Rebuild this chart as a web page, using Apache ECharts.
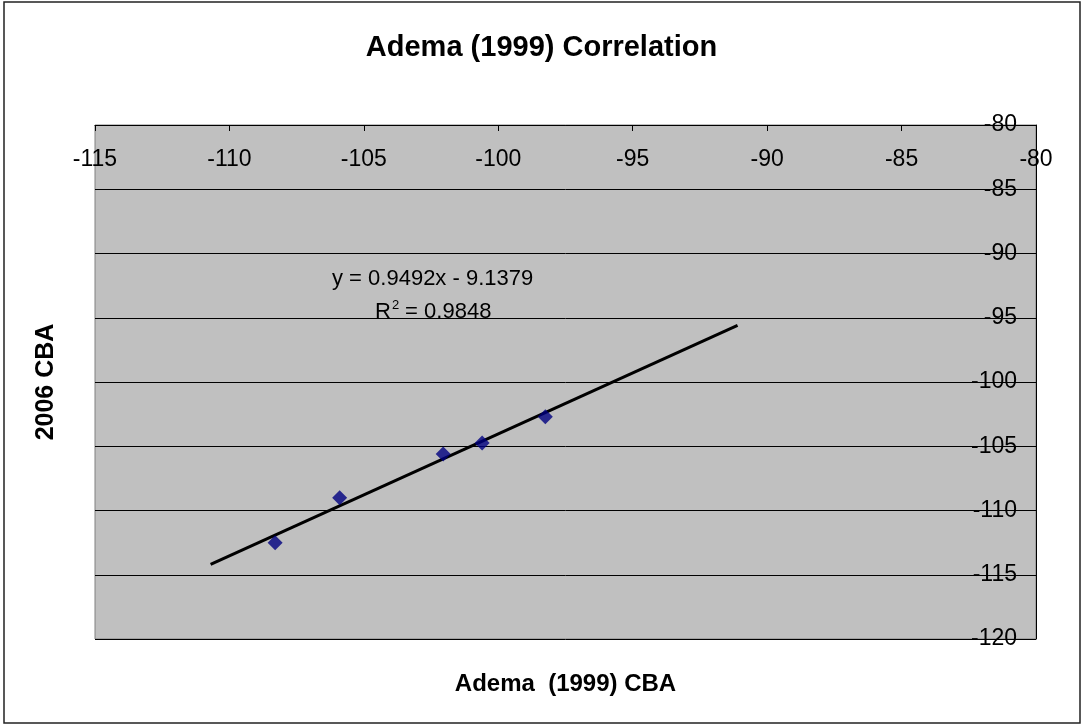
<!DOCTYPE html>
<html>
<head>
<meta charset="utf-8">
<script src="https://cdn.jsdelivr.net/npm/echarts@6/dist/echarts.min.js"></script>
<style>
  html, body { margin: 0; padding: 0; background: #fff; }
  #chart { width: 1083px; height: 725px; }
</style>
</head>
<body>
<div id="chart"></div>
<script>
// measured points (Adema 1999 vs 2006 CBA)
const ademaCBA = [-108.3, -105.9, -102.05, -100.6, -98.25];
const cba2006 = [-112.5, -109.0, -105.6, -104.75, -102.7];
// trend line end points as drawn
const trendX = [-110.7, -91.1];
const trendY = [-114.2, -95.6];
const xRange = [-115, -80];
const yRange = [-120, -80];
const tickStep = 5;
const equationText = 'y = 0.9492x - 9.1379';
const rSquaredText = ' = 0.9848';

const chart = echarts.init(document.getElementById('chart'));
const font = 'Liberation Sans, Arial, sans-serif';

const points = ademaCBA.map((x, i) => [x, cba2006[i]]);
const trend = trendX.map((x, i) => [x, trendY[i]]);

const option = {
  backgroundColor: '#fff',
  animation: false,
  textStyle: { fontFamily: font },
  title: {
    text: 'Adema (1999) Correlation',
    left: 'center',
    top: 28,
    textStyle: { fontSize: 29, fontWeight: 'bold', color: '#000', fontFamily: font }
  },
  grid: {
    left: 95, right: 47, top: 125, bottom: 86,
    show: true,
    backgroundColor: '#C0C0C0',
    borderColor: '#808080',
    borderWidth: 1
  },
  xAxis: [{
    type: 'value',
    position: 'top',
    min: xRange[0], max: xRange[1], interval: tickStep,
    axisLine: { lineStyle: { color: '#000', width: 1 } },
    axisTick: { inside: true, length: 6, lineStyle: { color: '#000' } },
    axisLabel: { inside: true, margin: 23, fontSize: 23, color: '#000', fontFamily: font },
    splitLine: { show: false }
  }, {
    type: 'value',
    position: 'bottom',
    min: xRange[0], max: xRange[1],
    name: 'Adema  (1999) CBA',
    nameLocation: 'middle',
    nameGap: 33,
    nameTextStyle: { fontSize: 24, fontWeight: 'bold', color: '#000', fontFamily: font },
    axisLine: { show: false }, axisTick: { show: false },
    axisLabel: { show: false }, splitLine: { show: false }
  }],
  yAxis: [{
    type: 'value',
    position: 'right',
    min: yRange[0], max: yRange[1], interval: tickStep,
    axisLine: { show: true, lineStyle: { color: '#000', width: 1 } },
    axisTick: { show: true, inside: true, length: 7, lineStyle: { color: '#000' } },
    axisLabel: { inside: true, margin: 19, fontSize: 23, color: '#000', fontFamily: font },
    splitLine: { show: true, lineStyle: { color: '#000', width: 1 } }
  }, {
    type: 'value',
    position: 'left',
    min: yRange[0], max: yRange[1],
    name: '2006 CBA',
    nameLocation: 'middle',
    nameGap: 36,
    nameTextStyle: { fontSize: 25, fontWeight: 'bold', color: '#000', fontFamily: font },
    axisLine: { show: false }, axisTick: { show: false },
    axisLabel: { show: false }, splitLine: { show: false }
  }],
  series: [{
    type: 'line',
    data: trend,
    symbol: 'none',
    lineStyle: { color: '#000', width: 3 },
    z: 2
  }, {
    type: 'scatter',
    data: points,
    symbol: 'diamond',
    symbolSize: 15,
    itemStyle: { color: '#000080' },
    z: 3
  }],
  graphic: [{
    type: 'rect',
    shape: { x: 4, y: 2, width: 1076, height: 721 },
    style: { fill: null, stroke: '#222', lineWidth: 1.5 },
    silent: true
  }, {
    type: 'text',
    x: 332, y: 279,
    style: { text: equationText, fontSize: 22, fill: '#000', fontFamily: font, verticalAlign: 'middle' },
    z: 10
  }, {
    type: 'text',
    x: 375, y: 312,
    style: { text: 'R', fontSize: 22, fill: '#000', fontFamily: font, verticalAlign: 'middle' },
    z: 10
  }, {
    type: 'text',
    x: 392, y: 305,
    style: { text: '2', fontSize: 13, fill: '#000', fontFamily: font, verticalAlign: 'middle' },
    z: 10
  }, {
    type: 'text',
    x: 399, y: 312,
    style: { text: rSquaredText, fontSize: 22, fill: '#000', fontFamily: font, verticalAlign: 'middle' },
    z: 10
  }]
};

chart.setOption(option);
</script>
</body>
</html>
